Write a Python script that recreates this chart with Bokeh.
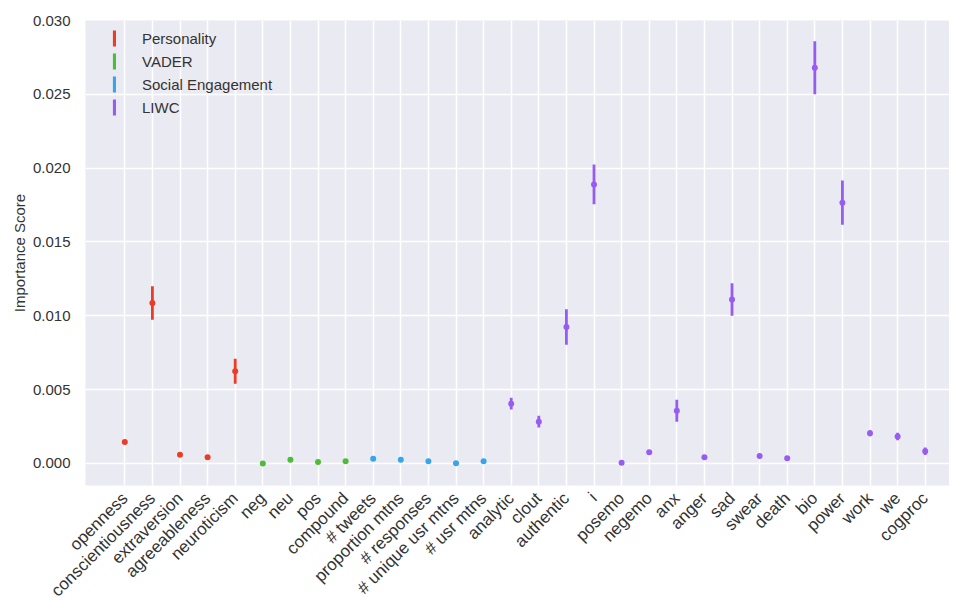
import numpy as np
from bokeh.plotting import figure
from bokeh.models import ColumnDataSource, FixedTicker, NumeralTickFormatter, Legend, LegendItem, Range1d
from bokeh.embed import file_html
from bokeh.resources import INLINE

features = ["openness", "conscientiousness", "extraversion", "agreeableness", "neuroticism",
            "neg", "neu", "pos", "compound",
            "# tweets", "proportion mtns", "# responses", "# unique usr mtns", "# usr mtns",
            "analytic", "clout", "authentic", "i", "posemo", "negemo", "anx", "anger", "sad",
            "swear", "death", "bio", "power", "work", "we", "cogproc"]
groups = ["Personality"] * 5 + ["VADER"] * 4 + ["Social Engagement"] * 5 + ["LIWC"] * 16
scores = [0.00145, 0.01087, 0.00060, 0.00043, 0.00625,
          0.00000, 0.00025, 0.00010, 0.00015,
          0.00032, 0.00025, 0.00016, 0.00002, 0.00016,
          0.00405, 0.00283, 0.00924, 0.01890, 0.00005, 0.00077, 0.00357, 0.00043, 0.01110,
          0.00050, 0.00036, 0.02680, 0.01766, 0.00205, 0.00183, 0.00083]
errors = [0.00008, 0.00113, 0.00010, 0.00006, 0.00085,
          0.00003, 0.00003, 0.00002, 0.00003,
          0.00003, 0.00003, 0.00003, 0.00002, 0.00003,
          0.00040, 0.00040, 0.00120, 0.00135, 0.00003, 0.00015, 0.00075, 0.00005, 0.00110,
          0.00013, 0.00005, 0.00180, 0.00150, 0.00020, 0.00025, 0.00025]
group_names = ["Personality", "VADER", "Social Engagement", "LIWC"]
group_colors = ["#ea3d27", "#4cbd37", "#38a5ea", "#985cf2"]
y_ticks = [0.0, 0.005, 0.010, 0.015, 0.020, 0.025, 0.030]

x_lo, x_hi = -1.424, 29.88
p = figure(width=949, height=620, output_backend="svg", toolbar_location=None,
           x_range=Range1d(x_lo, x_hi), y_range=Range1d(-0.00149, 0.0300),
           min_border_left=85, min_border_top=20, min_border_right=0, min_border_bottom=135)
p.background_fill_color = "#eaeaf2"
p.border_fill_color = "white"
p.outline_line_color = None

p.xgrid.grid_line_color = "white"
p.xgrid.grid_line_width = 1.5
p.ygrid.grid_line_color = "white"
p.ygrid.grid_line_width = 1.5

p.xaxis.ticker = FixedTicker(ticks=list(range(len(features))))
p.xaxis.major_label_overrides = {i: f for i, f in enumerate(features)}
p.xaxis.major_label_orientation = np.pi / 4
p.yaxis.ticker = FixedTicker(ticks=y_ticks)
p.yaxis.formatter = NumeralTickFormatter(format="0.000")
for ax in (p.xaxis[0], p.yaxis[0]):
    ax.axis_line_color = None
    ax.major_tick_line_color = None
    ax.minor_tick_line_color = None
    ax.major_label_text_font = "Liberation Sans"
    ax.major_label_text_color = "#333333"
p.yaxis.major_label_text_font_size = "15px"
p.xaxis.major_label_text_font_size = "17px"
p.yaxis.major_label_standoff = 9
p.xaxis.major_label_standoff = 4
p.yaxis.axis_label = "Importance Score"
p.yaxis.axis_label_text_font = "Liberation Sans"
p.yaxis.axis_label_text_font_style = "normal"
p.yaxis.axis_label_text_font_size = "15px"
p.yaxis.axis_label_text_color = "#333333"
p.yaxis.axis_label_standoff = 2

px_per_unit = 864 / (x_hi - x_lo)
bar_w = 2.8 / px_per_unit

items = []
for name, color in zip(group_names, group_colors):
    idx = [i for i, g in enumerate(groups) if g == name]
    src = ColumnDataSource(dict(
        x=idx,
        y=[scores[i] for i in idx],
        lo=[scores[i] - errors[i] for i in idx],
        hi=[scores[i] + errors[i] for i in idx],
    ))
    bars = p.vbar(x="x", top="hi", bottom="lo", width=bar_w,
                  source=src, fill_color=color, line_color=None)
    dots = p.scatter(x="x", y="y", size=6, source=src, fill_color=color, line_color=None)
    items.append(LegendItem(label=name, renderers=[bars, dots]))

legend = Legend(items=items, location=(27, 368), padding=0, margin=0, spacing=3,
                glyph_width=4, glyph_height=20, label_height=20, label_standoff=26,
                label_text_font="Liberation Sans", label_text_font_size="15px",
                label_text_color="#333333", border_line_color=None,
                background_fill_alpha=0)
p.add_layout(legend, "center")

open("out.html", "w").write(file_html(p, INLINE))
